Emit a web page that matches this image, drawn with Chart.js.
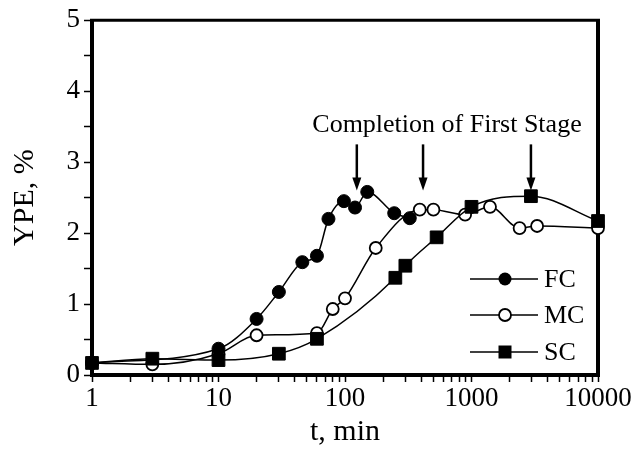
<!DOCTYPE html>
<html>
<head>
<meta charset="utf-8">
<script src="https://cdn.jsdelivr.net/npm/chart.js@4.4.1/dist/chart.umd.min.js"></script>
<style>
  html, body { margin: 0; padding: 0; background: #fff; }
</style>
</head>
<body>
<canvas id="grafico" width="637" height="452"></canvas>
<script>
// tempos (min) e YPE (%)
const fcTime = [1, 10, 20, 30, 46, 60, 74, 98, 120, 150, 245, 325];
const fcYpe  = [0.17, 0.37, 0.79, 1.17, 1.59, 1.68, 2.2, 2.45, 2.36, 2.58, 2.28, 2.21];

const mcTime = [1, 3, 10, 20, 60, 80, 100, 175, 390, 500, 890, 1400, 2400, 3300, 10000];
const mcYpe  = [0.17, 0.15, 0.3, 0.56, 0.59, 0.93, 1.08, 1.79, 2.33, 2.33, 2.26, 2.37, 2.07, 2.1, 2.07];

const scTime = [1, 3, 10, 30, 60, 250, 300, 530, 1000, 2950, 10000];
const scYpe  = [0.17, 0.23, 0.21, 0.3, 0.51, 1.37, 1.54, 1.94, 2.37, 2.52, 2.17];

const seriesNames = ['FC', 'MC', 'SC'];
const xTickLabels = ['1', '10', '100', '1000', '10000'];
const yTickLabels = ['0', '1', '2', '3', '4', '5'];

// fim da primeira etapa (setas)
const stageText = 'Completion of First Stage';
const arrowTimes = [124, 414, 2950];

const fonte = '"Liberation Serif", "Times New Roman", serif';

const pontos = (ts, ys) => ts.map((t, i) => ({ x: t, y: ys[i] }));

const moldura = {
  id: 'moldura',
  beforeDatasetsDraw(chart) {
    const { ctx, chartArea: a } = chart;
    ctx.save();
    ctx.strokeStyle = '#000';
    ctx.lineWidth = 4;
    ctx.beginPath();
    ctx.moveTo(a.left, a.top);
    ctx.lineTo(a.left, a.bottom);
    ctx.lineTo(a.right, a.bottom);
    ctx.lineTo(a.right, a.top);
    ctx.stroke();
    ctx.lineWidth = 3;
    ctx.beginPath();
    ctx.moveTo(a.left - 2, a.top);
    ctx.lineTo(a.right + 2, a.top);
    ctx.stroke();
    ctx.restore();
  }
};

const anotacao = {
  id: 'anotacao',
  afterDatasetsDraw(chart) {
    const { ctx } = chart;
    const x = chart.scales.x, y = chart.scales.y;
    ctx.save();
    ctx.fillStyle = '#000';
    ctx.strokeStyle = '#000';
    ctx.font = '26px ' + fonte;
    ctx.textAlign = 'center';
    ctx.textBaseline = 'middle';
    ctx.fillText(stageText, x.getPixelForValue(640), y.getPixelForValue(3.52));
    arrowTimes.forEach(t => {
      const px = x.getPixelForValue(t);
      const y0 = y.getPixelForValue(3.25);
      const y1 = y.getPixelForValue(2.6);
      ctx.lineWidth = 2.5;
      ctx.beginPath();
      ctx.moveTo(px, y0);
      ctx.lineTo(px, y1 - 10);
      ctx.stroke();
      ctx.beginPath();
      ctx.moveTo(px - 4.5, y1 - 13);
      ctx.lineTo(px + 4.5, y1 - 13);
      ctx.lineTo(px, y1);
      ctx.closePath();
      ctx.fill();
    });
    ctx.restore();
  }
};

const legenda = {
  id: 'legenda',
  afterDatasetsDraw(chart) {
    const { ctx, chartArea: a } = chart;
    const rows = [a.bottom - 96, a.bottom - 60, a.bottom - 23];
    ctx.save();
    ctx.strokeStyle = '#000';
    ctx.fillStyle = '#000';
    ctx.font = '26px ' + fonte;
    ctx.textAlign = 'left';
    ctx.textBaseline = 'middle';
    seriesNames.forEach((nome, i) => {
      const yy = rows[i];
      const mx = a.right - 93;
      ctx.lineWidth = 1.5;
      ctx.beginPath();
      ctx.moveTo(a.right - 128, yy);
      ctx.lineTo(a.right - 60, yy);
      ctx.stroke();
      ctx.beginPath();
      if (i === 2) {
        ctx.rect(mx - 6.5, yy - 6.5, 13, 13);
        ctx.fill();
      } else {
        ctx.arc(mx, yy, i === 0 ? 6.5 : 6, 0, Math.PI * 2);
        if (i === 0) ctx.fill();
        else {
          ctx.fillStyle = '#fff';
          ctx.fill();
          ctx.lineWidth = 1.8;
          ctx.stroke();
          ctx.fillStyle = '#000';
        }
      }
      ctx.fillText(nome, a.right - 54, yy + 1);
    });
    ctx.restore();
  }
};

const ctx = document.getElementById('grafico');

new Chart(ctx, {
  type: 'line',
  data: {
    datasets: [
      {
        label: seriesNames[0],
        data: pontos(fcTime, fcYpe),
        borderColor: '#000',
        borderWidth: 1.5,
        pointStyle: 'circle',
        pointRadius: 6.5,
        pointBackgroundColor: '#000',
        pointBorderColor: '#000',
        pointBorderWidth: 1,
        cubicInterpolationMode: 'monotone',
        clip: false,
        order: 1
      },
      {
        label: seriesNames[1],
        data: pontos(mcTime, mcYpe),
        borderColor: '#000',
        borderWidth: 1.5,
        pointStyle: 'circle',
        pointRadius: 6,
        pointBackgroundColor: '#fff',
        pointBorderColor: '#000',
        pointBorderWidth: 1.8,
        cubicInterpolationMode: 'monotone',
        clip: false,
        order: 3
      },
      {
        label: seriesNames[2],
        data: pontos(scTime, scYpe),
        borderColor: '#000',
        borderWidth: 1.5,
        pointStyle: 'rect',
        pointRadius: 9,
        pointBackgroundColor: '#000',
        pointBorderColor: '#000',
        pointBorderWidth: 1,
        cubicInterpolationMode: 'monotone',
        clip: false,
        order: 2
      }
    ]
  },
  options: {
    responsive: false,
    devicePixelRatio: 1,
    animation: false,
    layout: { padding: { top: 20, right: 39, left: 0, bottom: 0 } },
    plugins: {
      legend: { display: false },
      tooltip: { enabled: false }
    },
    scales: {
      x: {
        type: 'logarithmic',
        min: 1,
        max: 10000,
        afterBuildTicks: (scale) => {
          const ticks = [];
          for (let d = 1; d < 10000; d *= 10) {
            for (let m = 1; m < 10; m++) ticks.push({ value: d * m });
          }
          ticks.push({ value: 10000 });
          scale.ticks = ticks;
        },
        afterFit: (scale) => { scale.height = 77; },
        border: { display: false },
        grid: {
          drawOnChartArea: false,
          drawTicks: true,
          tickLength: 7,
          tickWidth: 1.5,
          color: '#000'
        },
        ticks: {
          autoSkip: false,
          maxRotation: 0,
          padding: 1,
          color: '#000',
          font: { family: fonte, size: 27 },
          callback: (v) => xTickLabels.includes(String(v)) ? String(v) : ''
        },
        title: {
          display: true,
          text: 't, min',
          color: '#000',
          font: { family: fonte, size: 30 },
          padding: { top: 0, bottom: 2 }
        }
      },
      y: {
        min: 0,
        max: 5,
        afterFit: (scale) => { scale.width = 92; },
        border: { display: false },
        grid: {
          drawOnChartArea: false,
          drawTicks: true,
          tickLength: 8,
          tickWidth: 1.5,
          color: '#000'
        },
        ticks: {
          stepSize: 0.5,
          padding: 4,
          color: '#000',
          font: { family: fonte, size: 27 },
          callback: (v) => yTickLabels.includes(String(v)) ? String(v) : ''
        },
        title: {
          display: true,
          text: 'YPE, %',
          color: '#000',
          font: { family: fonte, size: 30 },
          padding: { top: 7, bottom: 0 }
        }
      }
    }
  },
  plugins: [moldura, anotacao, legenda]
});
</script>
</body>
</html>
